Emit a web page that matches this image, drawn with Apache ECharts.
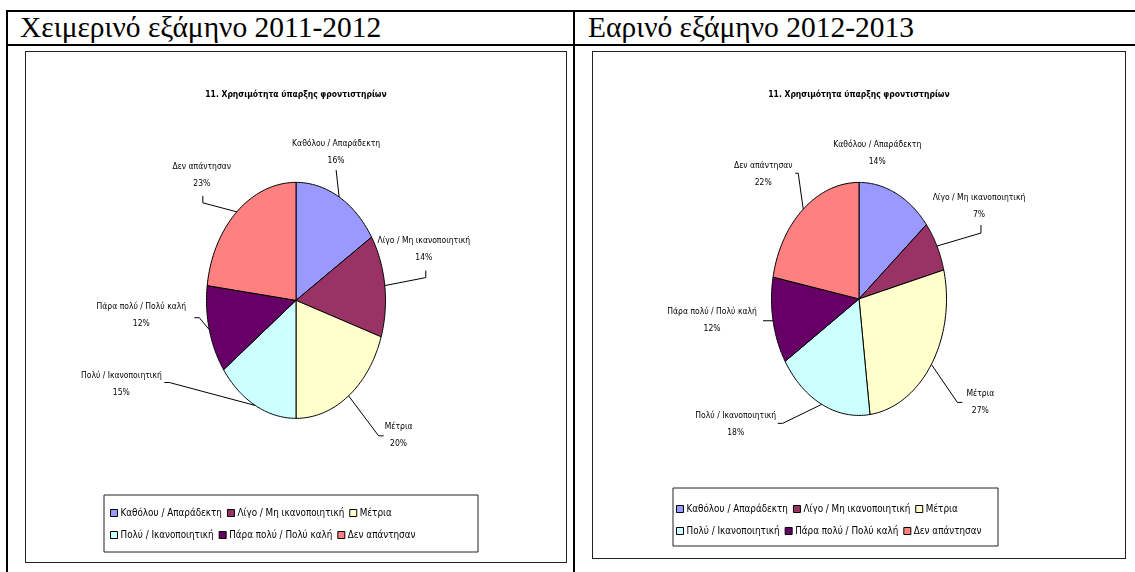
<!DOCTYPE html>
<html lang="el">
<head>
<meta charset="UTF-8">
<title>Χρησιμότητα ύπαρξης φροντιστηρίων</title>
<script src="https://cdn.jsdelivr.net/npm/echarts@6/dist/echarts.min.js"></script>
<style>
    html, body { margin: 0; padding: 0; background: #fff; }
    body { width: 1135px; height: 572px; position: relative; overflow: hidden; }
    .line { position: absolute; background: #000; }
    .hdr {
        position: absolute; top: 13px; height: 28px; line-height: 28px;
        font-family: "Liberation Serif", "DejaVu Serif", serif; font-size: 29.5px; color: #000;
        white-space: nowrap;
    }
    .box { position: absolute; border: 1px solid #222; box-sizing: border-box; }
</style>
</head>
<body>
    <!-- table grid -->
    <div class="line" style="left:6px; top:10px; width:1129px; height:2px;"></div>
    <div class="line" style="left:6px; top:44px; width:1129px; height:2px;"></div>
    <div class="line" style="left:6px; top:10px; width:2px; height:562px;"></div>
    <div class="line" style="left:573px; top:10px; width:2px; height:562px;"></div>

    <div class="hdr" style="left:20px;">Χειμερινό εξάμηνο 2011-2012</div>
    <div class="hdr" style="left:588px;">Εαρινό εξάμηνο 2012-2013</div>

    <div class="box" id="chartA" style="left:25px; top:51px; width:542px; height:512px;"></div>
    <div class="box" id="chartB" style="left:592px; top:51px; width:534px; height:508px;"></div>

<script>
// data
var chartTitle = '11. Χρησιμότητα ύπαρξης φροντιστηρίων';
var categories = ['Καθόλου / Απαράδεκτη', 'Λίγο / Μη ικανοποιητική', 'Μέτρια',
                  'Πολύ / Ικανοποιητική', 'Πάρα πολύ / Πολύ καλή', 'Δεν απάντησαν'];
var winterValues = [16, 14, 20, 15, 12, 23];
var springValues = [14, 7, 27, 18, 12, 22];

// excel 2003 palette
var colors = ['#9999FF', '#993366', '#FFFFCC', '#CCFFFF', '#660066', '#FF8080'];

var narrow = '"Liberation Sans Narrow", "DejaVu Sans Condensed", "Liberation Sans", sans-serif';

// label placement: offsets from the slice edge point (label centre, leader bends)
var winterLayout = {
    cx: 0.5, cy: 0.487, rx: 89.5, ry: 118,
    legendBox: [78, 443, 374, 57], legendLeft: 84, legendTop: [456, 478],
    labels: [
        { at: [-3, -45], leader: [[-3, -27]] },
        { at: [39, -36], leader: [[41, -8], [41, -15]] },
        { at: [50, 39], leader: [[30, 40], [35, 40]] },
        { at: [-134, -21], leader: [[-86, -23], [-91, -23]] },
        { at: [-68, -14], leader: [[-10, -12], [-15, -12]] },
        { at: [-35, -37], leader: [[-34, -9], [-34, -16]] }
    ]
};
var springLayout = {
    cx: 0.5, cy: 0.488, rx: 87.5, ry: 116.5,
    legendBox: [80, 436, 325, 58], legendLeft: 83, legendTop: [452, 474],
    labels: [
        { at: [-19, -40], leader: [] },
        { at: [42, -40], leader: [[44, -13], [44, -21]] },
        { at: [49, 38], leader: [[26, 38], [31, 38]] },
        { at: [-86, 20], leader: [[-39, 19], [-44, 19]] },
        { at: [-61, 0], leader: [[-10, 0]] },
        { at: [-40, -35], leader: [[-5, -36], [-8, -36]] }
    ]
};

function sliceRenderer(values, idx, lay) {
    var total = values.reduce(function (a, b) { return a + b; }, 0);
    var before = 0;
    for (var k = 0; k < idx; k++) before += values[k];
    return function (params, api) {
        var w = api.getWidth(), h = api.getHeight();
        var cx = w * lay.cx, cy = h * lay.cy;
        var v = api.value(0);
        var a0 = before / total * Math.PI * 2;
        var a1 = (before + v) / total * Math.PI * 2;
        // elliptical wedge, clockwise from 12 o'clock
        var pts = [[cx, cy]];
        var n = 60;
        for (var j = 0; j <= n; j++) {
            var a = a0 + (a1 - a0) * j / n;
            pts.push([cx + lay.rx * Math.sin(a), cy - lay.ry * Math.cos(a)]);
        }
        var mid = (a0 + a1) / 2;
        var ex = cx + lay.rx * Math.sin(mid), ey = cy - lay.ry * Math.cos(mid);
        var lb = lay.labels[idx];
        var lead = [[ex, ey]].concat(lb.leader.map(function (p) { return [ex + p[0], ey + p[1]]; }));
        var children = [{
            type: 'polygon',
            shape: { points: pts },
            style: { fill: api.visual('color'), stroke: '#000', lineWidth: 1 }
        }];
        if (lead.length > 1) {
            children.push({
                type: 'polyline',
                shape: { points: lead },
                style: { fill: 'none', stroke: '#000', lineWidth: 1 }
            });
        }
        children.push({
            type: 'text',
            x: ex + lb.at[0], y: ey + lb.at[1],
            style: {
                text: categories[idx] + '\n' + Math.round(v / total * 100) + '%',
                align: 'center', verticalAlign: 'middle',
                font: '8.5px ' + narrow, lineHeight: 17, fill: '#000'
            }
        });
        return { type: 'group', children: children };
    };
}

function makeOption(values, lay) {
    var series = categories.map(function (name, i) {
        return {
            name: name,
            type: 'custom',
            coordinateSystem: 'none',
            itemStyle: { color: colors[i] },
            data: [[values[i]]],
            renderItem: sliceRenderer(values, i, lay)
        };
    });
    var legendBase = {
        orient: 'horizontal', icon: 'rect', itemWidth: 7, itemHeight: 7, itemGap: 5,
        selectedMode: false, left: lay.legendLeft, padding: 0,
        itemStyle: { borderColor: '#000', borderWidth: 1 },
        textStyle: { fontFamily: narrow, fontSize: 9.8, color: '#000', padding: [0, 0, 0, -2] }
    };
    return {
        animation: false,
        title: {
            text: chartTitle, left: 'center', top: 33,
            textStyle: { fontFamily: narrow, fontSize: 8.5, fontWeight: 'bold', color: '#000' }
        },
        graphic: [{
            type: 'rect',
            shape: { x: lay.legendBox[0], y: lay.legendBox[1], width: lay.legendBox[2], height: lay.legendBox[3] },
            style: { fill: '#fff', stroke: '#222', lineWidth: 1 },
            z: -1
        }],
        legend: [
            Object.assign({}, legendBase, { top: lay.legendTop[0], data: categories.slice(0, 3) }),
            Object.assign({}, legendBase, { top: lay.legendTop[1], data: categories.slice(3) })
        ],
        series: series
    };
}

var chartA = echarts.init(document.getElementById('chartA'));
chartA.setOption(makeOption(winterValues, winterLayout));
var chartB = echarts.init(document.getElementById('chartB'));
chartB.setOption(makeOption(springValues, springLayout));

window.addEventListener('resize', function () {
    chartA.resize();
    chartB.resize();
});
</script>
</body>
</html>
